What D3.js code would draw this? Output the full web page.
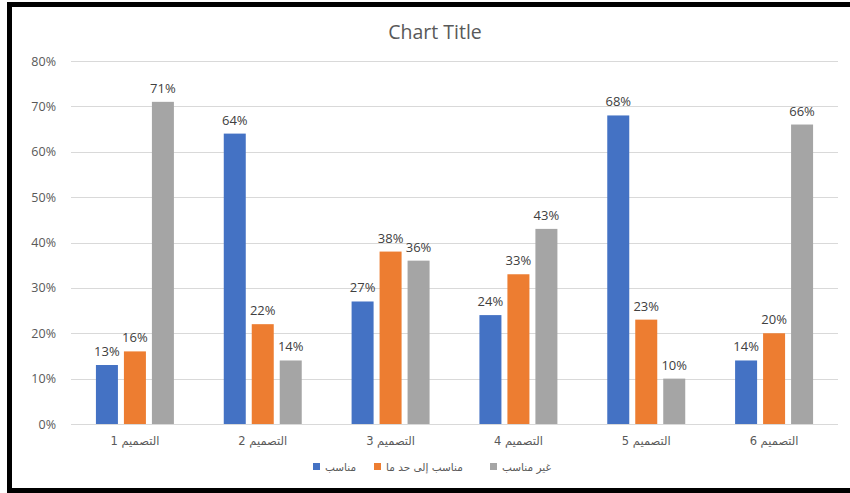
<!DOCTYPE html>
<html>
<head>
<meta charset="utf-8">
<script src="https://cdn.jsdelivr.net/npm/d3@7"></script>
<style>
  html, body { margin: 0; padding: 0; background: #fff; }
  svg { display: block; }
</style>
</head>
<body>
<div id="chart"></div>
<script>
// chart data
const categories = ['التصميم 1', 'التصميم 2', 'التصميم 3', 'التصميم 4', 'التصميم 5', 'التصميم 6'];
const seriesNames = ['مناسب', 'مناسب إلى حد ما', 'غير مناسب'];
const seriesColors = ['#4472C4', '#ED7D31', '#A5A5A5'];
const suitable = [13, 64, 27, 24, 68, 14];
const somewhatSuitable = [16, 22, 38, 33, 23, 20];
const notSuitable = [71, 14, 36, 43, 10, 66];
const yTicks = [0, 10, 20, 30, 40, 50, 60, 70, 80];

const series = [suitable, somewhatSuitable, notSuitable];

const width = 850;
const height = 493;
const plot = { left: 71, right: 838, top: 61, bottom: 424 };
const font = '"Open Sans", "DejaVu Sans", sans-serif';
const textColor = '#595959';

const svg = d3.select('#chart').append('svg')
  .attr('width', width)
  .attr('height', height);

// outer frame (left, top, bottom edges visible in the picture)
svg.append('path')
  .attr('d', `M9.5,${height} V4.5 H${width} M9.5,490.5 H${width}`)
  .attr('fill', 'none')
  .attr('stroke', '#000')
  .attr('stroke-width', 5);

const x0 = d3.scaleBand()
  .domain(categories)
  .range([plot.left, plot.right])
  .paddingInner(0.39)
  .paddingOuter(0.195);

const x1 = d3.scaleBand()
  .domain(d3.range(series.length))
  .range([0, x0.bandwidth()])
  .paddingInner(0.214);

const y = d3.scaleLinear()
  .domain([0, 80])
  .range([plot.bottom, plot.top]);

// gridlines
svg.append('g')
  .selectAll('line')
  .data(yTicks)
  .join('line')
  .attr('x1', plot.left)
  .attr('x2', plot.right)
  .attr('y1', d => Math.round(y(d)) + 0.5)
  .attr('y2', d => Math.round(y(d)) + 0.5)
  .attr('stroke', '#D9D9D9')
  .attr('stroke-width', 1);

// y axis labels
const yAxis = svg.append('g')
  .attr('transform', `translate(${plot.left - 15},0)`)
  .call(d3.axisLeft(y).tickValues(yTicks).tickSize(0).tickPadding(0).tickFormat(d => d + '%'));
yAxis.select('.domain').remove();
yAxis.selectAll('text')
  .attr('font-family', font)
  .attr('font-size', 12.5)
  .attr('fill', textColor);

// x axis labels
const xAxis = svg.append('g')
  .attr('transform', `translate(0,${plot.bottom + 13})`)
  .call(d3.axisBottom(x0).tickSize(0).tickPadding(0));
xAxis.select('.domain').remove();
xAxis.selectAll('text')
  .attr('font-family', '"DejaVu Sans", "Noto Sans", sans-serif')
  .attr('font-size', 11.5)
  .attr('direction', 'rtl')
  .attr('fill', textColor);

// bars
const groups = svg.append('g')
  .selectAll('g')
  .data(categories)
  .join('g')
  .attr('transform', d => `translate(${x0(d)},0)`);

const cells = groups.selectAll('g')
  .data((d, i) => series.map((s, k) => ({ k, v: s[i] })))
  .join('g');

cells.append('rect')
  .attr('x', d => x1(d.k))
  .attr('y', d => y(d.v))
  .attr('width', x1.bandwidth())
  .attr('height', d => y(0) - y(d.v))
  .attr('fill', d => seriesColors[d.k]);

cells.append('text')
  .attr('x', d => x1(d.k) + x1.bandwidth() / 2)
  .attr('y', d => y(d.v) - 9)
  .attr('text-anchor', 'middle')
  .attr('font-family', font)
  .attr('font-size', 13)
  .attr('fill', '#404040')
  .text(d => d.v + '%');

// title
svg.append('text')
  .attr('x', 435)
  .attr('y', 39)
  .attr('text-anchor', 'middle')
  .attr('font-family', font)
  .attr('font-size', 19.5)
  .attr('fill', textColor)
  .text('Chart Title');

// legend
const legendX = [313, 374, 490];
const legend = svg.append('g')
  .selectAll('g')
  .data(seriesNames)
  .join('g')
  .attr('transform', (d, i) => `translate(${legendX[i]},463)`);

legend.append('rect')
  .attr('width', 7)
  .attr('height', 7)
  .attr('fill', (d, i) => seriesColors[i]);

legend.append('text')
  .attr('x', 12)
  .attr('y', 7.5)
  .attr('font-family', '"DejaVu Sans", "Noto Sans", sans-serif')
  .attr('font-size', 10.5)
  .attr('fill', textColor)
  .text(d => d);
</script>
</body>
</html>
